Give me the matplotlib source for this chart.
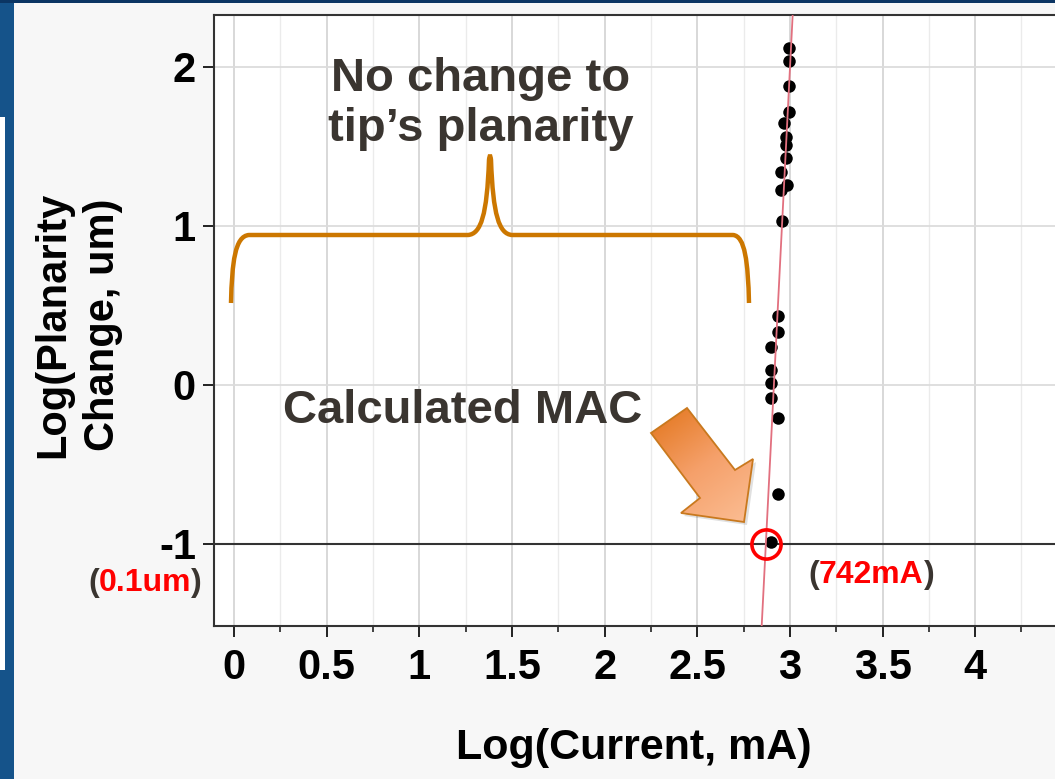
import numpy as np
import matplotlib.pyplot as plt
from matplotlib.path import Path
from matplotlib.patches import PathPatch, Polygon, Rectangle
from matplotlib.colors import LinearSegmentedColormap

plt.rcParams['font.family'] = ['Liberation Sans', 'DejaVu Sans']

# values
current_log = [2.995, 2.997, 2.997, 2.997, 2.970, 2.979, 2.979, 2.979, 2.952, 2.982, 2.952,
               2.956, 2.938, 2.938, 2.898, 2.898, 2.898, 2.898, 2.938, 2.938, 2.896]
planarity_log = [2.117, 2.040, 1.880, 1.719, 1.646, 1.562, 1.509, 1.430, 1.342, 1.258, 1.226,
                 1.033, 0.434, 0.331, 0.241, 0.094, 0.015, -0.084, -0.210, -0.688, -0.990]
mac_current_ma = 742
limit_log = -1          # 0.1 um
fit_slope = 0.0435      # change of log current per unit log planarity

x_ticks = [0, 0.5, 1, 1.5, 2, 2.5, 3, 3.5, 4]
x_tick_labels = ['0', '0.5', '1', '1.5', '2', '2.5', '3', '3.5', '4']
y_ticks = [-1, 0, 1, 2]
y_tick_labels = ['-1', '0', '1', '2']

W, H = 1055, 779
fig = plt.figure(figsize=(W / 100, H / 100), dpi=100, facecolor='#f7f7f7')

ax = fig.add_axes([214 / W, 1 - 626 / H, (W - 214) / W, (626 - 15) / H])
ax.set_facecolor('white')

ax.set_xticks(x_ticks)
ax.set_xticklabels(x_tick_labels, fontweight='bold')
ax.set_xticks(np.arange(-0.25, 4.5, 0.25), minor=True)
ax.set_yticks(y_ticks)
ax.set_yticklabels(y_tick_labels, fontweight='bold')
ax.set_xlim(-0.108, 4.431)
ax.set_ylim(-1.516, 2.327)

ax.tick_params(axis='both', which='major', labelsize=30, length=8, width=1.4,
               color='#222222', labelcolor='black')
ax.tick_params(axis='x', which='minor', length=4.5, width=1.2, color='#222222')
ax.tick_params(axis='x', which='major', pad=8)
ax.tick_params(axis='y', which='major', pad=5)
ax.grid(True, axis='x', which='major', color='#d6d6d6', lw=1.3)
ax.grid(True, axis='x', which='minor', color='#ebebeb', lw=1.0)
ax.grid(True, axis='y', which='major', color='#dcdcdc', lw=1.3)
ax.set_axisbelow(True)
for side in ['left', 'bottom', 'top']:
    ax.spines[side].set_color('#333333')
    ax.spines[side].set_linewidth(1.5)
ax.spines['right'].set_visible(False)

ax.axhline(limit_log, color='#333333', lw=1.5, zorder=2)

ax.plot(current_log, planarity_log, 'o', color='black', ms=9, mew=0, zorder=3)

mac_log = np.log10(mac_current_ma)
fit_y = np.array(ax.get_ylim())
fit_x = mac_log + fit_slope * (fit_y - limit_log)
ax.plot(fit_x, fit_y, color='#e2707f', lw=1.3, zorder=4)

ax.plot([mac_log], [limit_log], 'o', mfc='none', mec='#ff0000', ms=21, mew=2.6, zorder=5)
ax.set_xlim(-0.108, 4.431)
ax.set_ylim(-1.516, 2.327)

# overlay in pixel coordinates for the slide decorations
ov = fig.add_axes([0, 0, 1, 1], zorder=5)
ov.axis('off')
ov.patch.set_alpha(0)

ov.add_patch(Rectangle((0, 0), 14, H, color='#15538a', lw=0))
ov.add_patch(Rectangle((0, 117), 5, 553, color='white', lw=0))
ov.add_patch(Rectangle((0, 0), W, 3, color='#0b3563', lw=0))

# curly brace
brace = Path([(231, 303), (232, 262), (235, 236), (249, 235),
              (468, 235),
              (481, 234), (487, 215), (489, 160),
              (489.5, 155), (490.5, 155), (491, 160),
              (493, 215), (499, 234), (512, 235),
              (733, 235),
              (745, 236), (748, 262), (749, 303)],
             [Path.MOVETO, Path.CURVE4, Path.CURVE4, Path.CURVE4,
              Path.LINETO,
              Path.CURVE4, Path.CURVE4, Path.CURVE4,
              Path.CURVE4, Path.CURVE4, Path.CURVE4,
              Path.CURVE4, Path.CURVE4, Path.CURVE4,
              Path.LINETO,
              Path.CURVE4, Path.CURVE4, Path.CURVE4])
ov.add_patch(PathPatch(brace, fill=False, ec='#cc7700', lw=3.2, capstyle='butt'))

ov.text(481, 104, 'No change to\ntip\u2019s planarity', ha='center', va='center',
        fontsize=34, fontweight='bold', color='#3a3530', linespacing=1.15)
ov.text(283, 411, 'Calculated MAC', ha='left', va='center',
        fontsize=34, fontweight='bold', color='#3a3530')

# block arrow with gradient fill
arrow_pts = [(651, 433), (687, 408), (735, 470), (753, 459), (744, 522),
             (681, 513), (700, 498)]
shadow = Polygon([(x + 3, y + 3) for x, y in arrow_pts], closed=True,
                 fc='#000000', alpha=0.12, lw=0)
ov.add_patch(shadow)
arrow = Polygon(arrow_pts, closed=True, fc='none', ec='#c9791e', lw=1.3, zorder=3)
ov.add_patch(arrow)
x0, x1, y0, y1 = 645, 760, 400, 530
gx, gy = np.meshgrid(np.linspace(x0, x1, 200), np.linspace(y0, y1, 200))
d = np.array([75.0, 102.0])
d /= np.linalg.norm(d)
proj = (gx - 669) * d[0] + (gy - 420) * d[1]
proj = (proj - proj.min()) / (proj.max() - proj.min())
cmap = LinearSegmentedColormap.from_list('og', ['#e06f10', '#f5a06a', '#fcc29a'])
im = ov.imshow(proj, extent=(x0, x1, y1, y0), origin='upper', cmap=cmap,
               aspect='auto', zorder=2)
fill_clip = Polygon(arrow_pts, closed=True, transform=ov.transData)
im.set_clip_path(fill_clip)
ov.set_xlim(0, W)
ov.set_ylim(H, 0)


def colored(parts, x, y, size):
    r = fig.canvas.get_renderer()
    for s, c in parts:
        t = ov.text(x, y, s, color=c, fontsize=size, fontweight='bold',
                    ha='left', va='center')
        x += t.get_window_extent(renderer=r).width


colored([('(', '#3a3530'), ('0.1um', '#ff0000'), (')', '#3a3530')], 88, 583, 23)
colored([('(', '#3a3530'), ('742mA', '#ff0000'), (')', '#3a3530')], 808, 575, 23)

ov.text(634, 748, 'Log(Current, mA)', ha='center', va='center',
        fontsize=31, fontweight='bold', color='black')
ov.text(78, 325, 'Log(Planarity\nChange, um)', ha='center', va='center', rotation=90,
        fontsize=30, fontweight='bold', color='black', linespacing=1.3)

fig.savefig('out.png', dpi=100, facecolor=fig.get_facecolor())
